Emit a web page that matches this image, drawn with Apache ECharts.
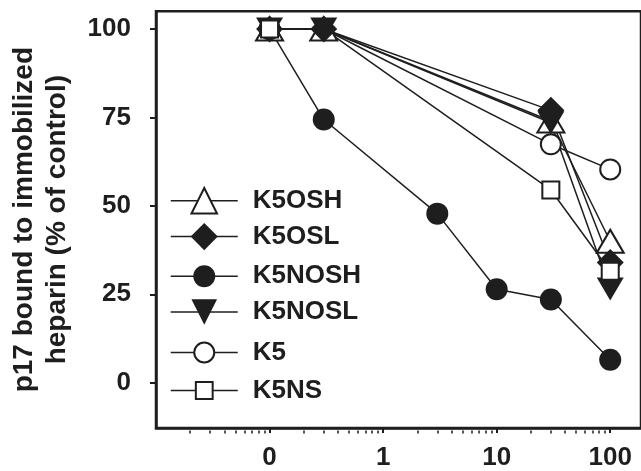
<!DOCTYPE html>
<html><head><meta charset="utf-8">
<script src="https://cdn.jsdelivr.net/npm/echarts@6/dist/echarts.min.js"></script>
<style>html,body{margin:0;padding:0;background:#fff}#c{width:641px;height:471px}</style>
</head><body><div id="c"></div>
<script>
// ---- data (dose, % of control) ----
const dosesAll   = [0, 0.3, 3, 10, 30, 100];
const dosesShort = [0, 0.3, 30, 100];
const K5OSH  = [100, 100, 74, 40];
const K5OSL  = [100, 100, 77, 34];
const K5NOSH = [100, 74.4, 47.8, 26.4, 23.5, 6.5];
const K5NOSL = [100, 100, 73.5, 26.5];
const K5     = [100, 100, 67.4, 60.3];
const K5NS   = [100, 100, 54.5, 31.5];
const xTickValues = [0, 1, 10, 100];
const xTickLabels = ['0', '1', '10', '100'];
const yTickValues = [0, 25, 50, 75, 100];
const yTitle = 'p17 bound to immobilized\nheparin (% of control)';

const INK = '#1e1e1e';
const FONT = 'Liberation Sans, Arial, sans-serif';
// 0 is drawn at the axis-break position one decade below 1
const pos = d => d === 0 ? -1 : Math.log10(d);
const build = (doses, vals, hideAt) => doses.map((d, i) => {
  const item = { value: [pos(d), vals[i]] };
  if (hideAt !== undefined && d === hideAt) item.symbol = 'none';
  return item;
});

const majorPos = xTickValues.map(pos);
const minorPos = [];
for (let dec = -2; dec <= 1; dec++) for (let k = 2; k <= 9; k++) minorPos.push(dec + Math.log10(k));

const gridTop = 11.3, gridBottom = 40.5, H = 471;
const gridH = H - gridTop - gridBottom;

const hollow = { color: '#fff', borderColor: INK, borderWidth: 2 };
const filled = { color: INK, borderWidth: 0 };
const lineSt = { color: INK, width: 1.5 };

const series = [
  { name: 'K5OSH', data: build(dosesShort, K5OSH), symbol: 'triangle', symbolSize: [27, 23], itemStyle: hollow },
  { name: 'K5', data: build(dosesShort, K5, 0.3), symbol: 'circle', symbolSize: 20, itemStyle: hollow },
  { name: 'K5OSL', data: build(dosesShort, K5OSL), symbol: 'diamond', symbolSize: [27, 27], itemStyle: filled },
  { name: 'K5NOSL', data: build(dosesShort, K5NOSL), symbol: 'triangle', symbolRotate: 180, symbolSize: [27, 23], itemStyle: filled },
  { name: 'K5NOSH', data: build(dosesAll, K5NOSH), symbol: 'circle', symbolSize: 22, itemStyle: filled },
  { name: 'K5NS', data: build(dosesShort, K5NS, 0.3), symbol: 'rect', symbolSize: 17, itemStyle: hollow }
].map(s => Object.assign({ type: 'line', lineStyle: lineSt, showSymbol: true, emphasis: { disabled: true }, clip: false }, s));

const legendDefs = [
  { name: 'K5OSH', cy: 203, h: 32 },
  { name: 'K5OSL', cy: 240, h: 34 },
  { name: 'K5NOSH', cy: 277, h: 27.5 },
  { name: 'K5NOSL', cy: 315, h: 32 },
  { name: 'K5', cy: 352, h: 25 },
  { name: 'K5NS', cy: 388, h: 21 }
];
const legends = legendDefs.map(l => ({
  data: [l.name], left: 170, top: l.cy - l.h / 2, orient: 'vertical', padding: 0,
  itemWidth: 67, itemHeight: l.h, selectedMode: false,
  lineStyle: { width: 1.5 },
  textStyle: { fontFamily: FONT, fontWeight: 'bold', fontSize: 26, color: INK, lineHeight: 20, padding: [0, 0, 0, 10] }
}));

const chart = echarts.init(document.getElementById('c'), null, { renderer: 'canvas' });
chart.setOption({
  animation: false,
  backgroundColor: '#fff',
  grid: { left: 152, right: -3, top: gridTop, bottom: gridBottom, show: true, borderColor: INK, borderWidth: 2.5, containLabel: false },
  legend: legends,
  xAxis: [
    { type: 'value', min: -2, max: 2.271, position: 'bottom',
      axisLine: { show: true, onZero: false, lineStyle: { color: INK, width: 2.5 } },
      axisTick: { show: true, customValues: majorPos, length: 5, lineStyle: { color: INK, width: 2 } },
      axisLabel: { show: true, customValues: majorPos, margin: 17, fontFamily: FONT, fontWeight: 'bold', fontSize: 26, color: INK,
        formatter: v => { const i = majorPos.findIndex(p => Math.abs(p - v) < 1e-6); return i >= 0 ? xTickLabels[i] : ''; } },
      splitLine: { show: false } },
    { type: 'value', min: -2, max: 2.271, position: 'top', offset: -gridH,
      axisLine: { show: false },
      axisTick: { show: true, inside: true, customValues: minorPos, length: 3, lineStyle: { color: INK, width: 1.5 } },
      axisLabel: { show: false }, splitLine: { show: false } }
  ],
  yAxis: { type: 'value', min: -12.8, max: 105,
    axisLine: { show: true, onZero: false, lineStyle: { color: INK, width: 2.5 } },
    axisTick: { show: true, customValues: yTickValues, length: 6, lineStyle: { color: INK, width: 2 } },
    axisLabel: { show: true, customValues: yTickValues, margin: 25, fontFamily: FONT, fontWeight: 'bold', fontSize: 26, color: INK },
    splitLine: { show: false },
    name: yTitle, nameLocation: 'middle', nameRotate: 90, nameGap: 82,
    nameTextStyle: { fontFamily: FONT, fontWeight: 'bold', fontSize: 28, color: INK, lineHeight: 33 } },
  series: series
});
</script></body></html>
